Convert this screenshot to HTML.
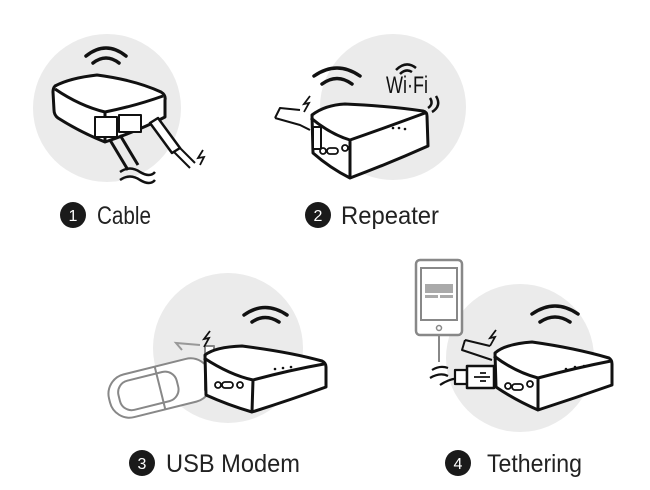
<!DOCTYPE html>
<html><head><meta charset="utf-8"><style>
html,body{margin:0;padding:0;background:#fff;}
svg{display:block;}
text{font-family:"Liberation Sans",sans-serif;font-weight:normal;}
</style></head><body>
<svg width="650" height="490" viewBox="0 0 650 490" xmlns="http://www.w3.org/2000/svg">
<g fill="#ebebeb">
<circle cx="107" cy="108" r="74"/>
<circle cx="393" cy="107" r="73"/>
<circle cx="228" cy="348" r="75"/>
<circle cx="520" cy="358" r="74"/>
</g>
<g fill="none" stroke="#111" stroke-width="3.5" stroke-linecap="round">
<path d="M86,56 Q106,40 126,56"/><path d="M93,63 Q106,53 119,63"/>
<path d="M314,76 Q337,60 360,76"/><path d="M322,84 Q337,73 352,84"/>
<path d="M244,315 Q265,300 287,315"/><path d="M252,322 Q265,313 279,322"/>
<path d="M532,314 Q555,298 578,314"/><path d="M540,322 Q555,312 570,322"/>
</g>
<!-- Router 1 -->
<g stroke="#111" stroke-width="3" stroke-linejoin="round" fill="#fff">
<path d="M55,86 Q70,78 97,75 Q135,80 161,92 Q166,95 165,100 L165,117 Q140,130 105,142 Q80,132 58,118 Q54,115 54,110 L53,92 Q53,88 55,86 Z"/>
<path d="M55,89 Q80,106 105,112 Q135,106 163,96" fill="none"/>
<path d="M105,112 L105,142" fill="none"/>
<rect x="95" y="117" width="22" height="20" fill="#fff" stroke-width="2"/>
<rect x="119" y="115" width="22" height="17" fill="#fff" stroke-width="2"/>
<path d="M110,140 L128,170 M120,135 L138,165" stroke-width="3" fill="none"/>
<path d="M150,123 L158,118 L180,148 L172,153 Z" stroke-width="2.5"/>
<path d="M174,152 L190,168 M180,148 L195,163" stroke-width="2" fill="none"/>
<path d="M120,172 Q130,165 140,172 Q150,178 155,172 M120,180 Q130,173 140,180 Q150,186 155,180" fill="none" stroke-width="2.5"/>
</g>
<path d="M203,150 L198,158 L204,157 L200,165" stroke="#111" stroke-width="1.8" fill="none"/>
<!-- Router 2 -->
<g stroke="#111" stroke-width="3" stroke-linejoin="round" fill="#fff">
<path d="M275,118 L280,108 L300,110 M275,118 L300,125 L310,130" fill="none" stroke-width="2"/>
<path d="M312,115 Q325,105 345,104 Q390,106 423,111 Q427,112 427,116 L428,146 Q390,163 350,178 Q330,168 313,153 Z"/>
<path d="M311,118 Q330,134 350,140 Q390,126 425,113 M350,140 L350,178" fill="none"/>
<rect x="313" y="127" width="8" height="22" stroke-width="2"/>
<circle cx="323" cy="151" r="3" stroke-width="1.8"/>
<rect x="327" y="148" width="11" height="6" rx="3" stroke-width="1.8"/>
<circle cx="345" cy="148" r="3" stroke-width="1.8"/>
</g>
<g fill="#111"><circle cx="393" cy="128" r="1.3"/><circle cx="399" cy="128" r="1.3"/><circle cx="405" cy="129" r="1.3"/></g>
<path d="M310,96 L304,104 L309,103 L304,112" stroke="#111" stroke-width="1.8" fill="none"/>
<text x="386" y="93" font-size="24" font-weight="bold" fill="#111" textLength="42" lengthAdjust="spacingAndGlyphs">Wi·Fi</text>
<g fill="none" stroke="#111" stroke-width="2.5"><path d="M400,74 Q406,68 412,72"/><path d="M396,70 Q406,60 416,68"/><path d="M430,98 Q434,104 428,108"/><path d="M436,96 Q442,106 432,112"/></g>
<!-- USB dongle -->
<g stroke="#888" stroke-width="2" fill="#fff" stroke-linejoin="round">
<g transform="rotate(-14 160 388)">
<rect x="108" y="366" width="104" height="44" rx="20"/>
<rect x="118" y="373" width="60" height="30" rx="12" fill="none"/>
<path d="M160,366 L160,410" fill="none"/>
</g>
<rect x="205" y="346" width="9" height="44"/>
</g>
<path d="M182,350 L176,343 L200,345" stroke="#999" stroke-width="2" fill="none"/>
<!-- Router 3 -->
<g stroke="#111" stroke-width="3" stroke-linejoin="round" fill="#fff">
<path d="M205,355 Q215,347 242,346 Q290,352 322,361 Q326,363 326,367 L326,387 Q290,400 252,412 Q228,405 206,395 Z"/>
<path d="M204,358 Q230,375 253,380 Q290,370 324,364 M253,380 L252,412" fill="none"/>
<circle cx="218" cy="385" r="3" stroke-width="1.8"/>
<rect x="222" y="382" width="11" height="6" rx="3" stroke-width="1.8"/>
<circle cx="240" cy="385" r="3" stroke-width="1.8"/>
</g>
<g fill="#111"><circle cx="275" cy="369" r="1.3"/><circle cx="283" cy="368" r="1.3"/><circle cx="291" cy="367" r="1.3"/></g>
<path d="M210,331 L204,339 L209,338 L204,347" stroke="#111" stroke-width="1.8" fill="none"/>
<!-- Phone -->
<g stroke="#888" stroke-width="2.5" fill="#fff">
<rect x="416" y="260" width="46" height="75" rx="4"/>
<rect x="421" y="268" width="36" height="52" stroke-width="2"/>
<circle cx="439" cy="328" r="2.5" stroke-width="1.5"/>
</g>
<rect x="425" y="284" width="28" height="9" fill="#aaa"/>
<rect x="425" y="295" width="13" height="3" fill="#aaa"/><rect x="440" y="295" width="13" height="3" fill="#aaa"/>
<path d="M439,336 L439,362" stroke="#888" stroke-width="2"/>
<!-- Router 4 -->
<g stroke="#111" stroke-width="3" stroke-linejoin="round" fill="#fff">
<path d="M432,370 Q440,365 448,368 M430,378 Q440,372 448,376 M440,385 Q450,378 462,378" fill="none" stroke-width="2.2"/>
<path d="M465,340 L462,350 L492,360 M465,340 L490,346" fill="none" stroke-width="2"/>
<path d="M495,353 Q505,344 532,342 Q575,348 609,358 Q612,360 612,364 L612,385 Q575,398 538,410 Q515,400 496,387 Z"/>
<path d="M494,356 Q515,372 538,378 Q575,368 611,361 M538,378 L538,410" fill="none"/>
<rect x="455" y="370" width="12" height="14" stroke-width="2.2"/>
<rect x="467" y="366" width="27" height="22" stroke-width="2.5"/>
<circle cx="508" cy="386" r="3" stroke-width="1.8"/>
<rect x="512" y="384" width="11" height="6" rx="3" stroke-width="1.8"/>
<circle cx="530" cy="384" r="3" stroke-width="1.8"/>
</g>
<path d="M474,377 L490,377 M480,373 L486,373 M480,381 L486,381" stroke="#111" stroke-width="1.8"/>
<g fill="#111"><circle cx="566" cy="369" r="1.3"/><circle cx="575" cy="367" r="1.3"/><circle cx="584" cy="366" r="1.3"/></g>
<path d="M496,330 L490,338 L495,337 L490,346" stroke="#111" stroke-width="1.8" fill="none"/>
<!-- Labels -->
<g fill="#1a1a1a">
<circle cx="73" cy="215" r="13"/>
<circle cx="318" cy="215" r="13"/>
<circle cx="142" cy="463" r="13"/>
<circle cx="458" cy="463" r="13"/>
</g>
<g fill="#fff" font-size="16" text-anchor="middle">
<text x="73" y="221">1</text><text x="318" y="221">2</text>
<text x="142" y="469">3</text><text x="458" y="469">4</text>
</g>
<g fill="#222" font-size="25">
<text x="97" y="224" textLength="54" lengthAdjust="spacingAndGlyphs">Cable</text>
<text x="341" y="224" textLength="98" lengthAdjust="spacingAndGlyphs">Repeater</text>
<text x="166" y="472" textLength="134" lengthAdjust="spacingAndGlyphs">USB Modem</text>
<text x="487" y="472" textLength="95" lengthAdjust="spacingAndGlyphs">Tethering</text>
</g>
</svg>
</body></html>
